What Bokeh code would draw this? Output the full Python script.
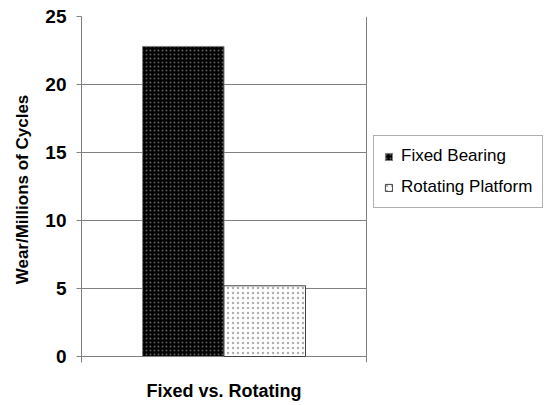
from bokeh.plotting import figure
from bokeh.models import (ColumnDataSource, Range1d, FixedTicker, Span,
                          Legend, LegendItem)
from bokeh.embed import file_html
from bokeh.resources import INLINE

# ---- data ----
categories = ["Fixed vs. Rotating"]
series_names = ["Fixed Bearing", "Rotating Platform"]
fixed_bearing = [22.8]
rotating_platform = [5.2]
y_ticks = [0, 5, 10, 15, 20, 25]
y_label = "Wear/Millions of Cycles"

FONT = "Liberation Sans"
GRAY = "#808080"

# category slot occupies [0, 1] on the x scale; frame extends to the right for legend
bar_w = 0.286
cat_centers = [i + 0.5 for i in range(len(categories))]
source = ColumnDataSource(dict(
    c=cat_centers,
    x_fixed=[c - bar_w / 2 for c in cat_centers],
    x_rot=[c + bar_w / 2 for c in cat_centers],
    fixed=fixed_bearing, rot=rotating_platform))

p = figure(x_range=Range1d(0, 463 / 285), y_range=Range1d(-0.44, 25),
           frame_width=463, frame_height=346,
           min_border_left=81, min_border_right=0,
           min_border_top=16, min_border_bottom=43,
           output_backend="svg", toolbar_location=None)

r1 = p.vbar(x="x_fixed", top="fixed", width=bar_w, source=source,
            fill_color="black", line_color=GRAY, line_width=1,
            hatch_pattern=".", hatch_color="#5a5a5a", hatch_scale=4, hatch_weight=1)
r2 = p.vbar(x="x_rot", top="rot", width=bar_w, source=source,
            fill_color="white", line_color="#404040", line_width=1,
            hatch_pattern=".", hatch_color="#b0b0b0", hatch_scale=5, hatch_weight=1)

# y axis
p.yaxis.ticker = FixedTicker(ticks=y_ticks)
p.yaxis.axis_label = y_label
p.yaxis.axis_label_text_font = FONT
p.yaxis.axis_label_text_font_style = "bold"
p.yaxis.axis_label_text_font_size = "17px"
p.yaxis.axis_label_text_color = "black"
p.yaxis.axis_label_standoff = 10
p.yaxis.major_label_text_font = FONT
p.yaxis.major_label_text_font_style = "bold"
p.yaxis.major_label_text_font_size = "19px"
p.yaxis.major_label_text_color = "black"
p.yaxis.major_label_standoff = 10
p.yaxis.major_tick_in = 0
p.yaxis.major_tick_out = 5
p.yaxis.minor_tick_in = 0
p.yaxis.minor_tick_out = 0
p.yaxis.axis_line_color = GRAY
p.yaxis.major_tick_line_color = GRAY

# x axis (category label)
p.xaxis.ticker = FixedTicker(ticks=cat_centers)
p.xaxis.major_label_overrides = {c: lab for c, lab in zip(cat_centers, categories)}
p.xaxis.axis_line_color = None
p.xaxis.major_tick_line_color = None
p.xaxis.minor_tick_line_color = None
p.xaxis.major_tick_out = 0
p.xaxis.major_tick_in = 0
p.xaxis.major_label_text_font = FONT
p.xaxis.major_label_text_font_style = "bold"
p.xaxis.major_label_text_font_size = "18px"
p.xaxis.major_label_text_color = "black"
p.xaxis.major_label_standoff = 18

# right border of the plot area
p.add_layout(Span(location=len(categories), dimension="height",
                  line_color=GRAY, line_width=1))

# grid
p.xgrid.visible = False
p.ygrid.ticker = FixedTicker(ticks=y_ticks)
p.ygrid.cross_bounds = (0, len(categories))
p.ygrid.grid_line_color = GRAY
p.ygrid.grid_line_width = 1
p.outline_line_color = None
p.background_fill_color = "white"
p.border_fill_color = "white"

legend = Legend(items=[LegendItem(label=series_names[0], renderers=[r1]),
                       LegendItem(label=series_names[1], renderers=[r2])],
                location=(292, 154))
legend.label_text_font = FONT
legend.label_text_font_size = "17px"
legend.label_text_color = "black"
legend.label_height = 20
legend.label_standoff = 8
legend.glyph_width = 9
legend.glyph_height = 9
legend.spacing = 11
legend.padding = 10
legend.margin = 0
legend.border_line_color = "#606060"
legend.border_line_width = 1
legend.background_fill_color = "white"
legend.background_fill_alpha = 1
p.add_layout(legend)

open("out.html", "w").write(file_html(p, INLINE))
